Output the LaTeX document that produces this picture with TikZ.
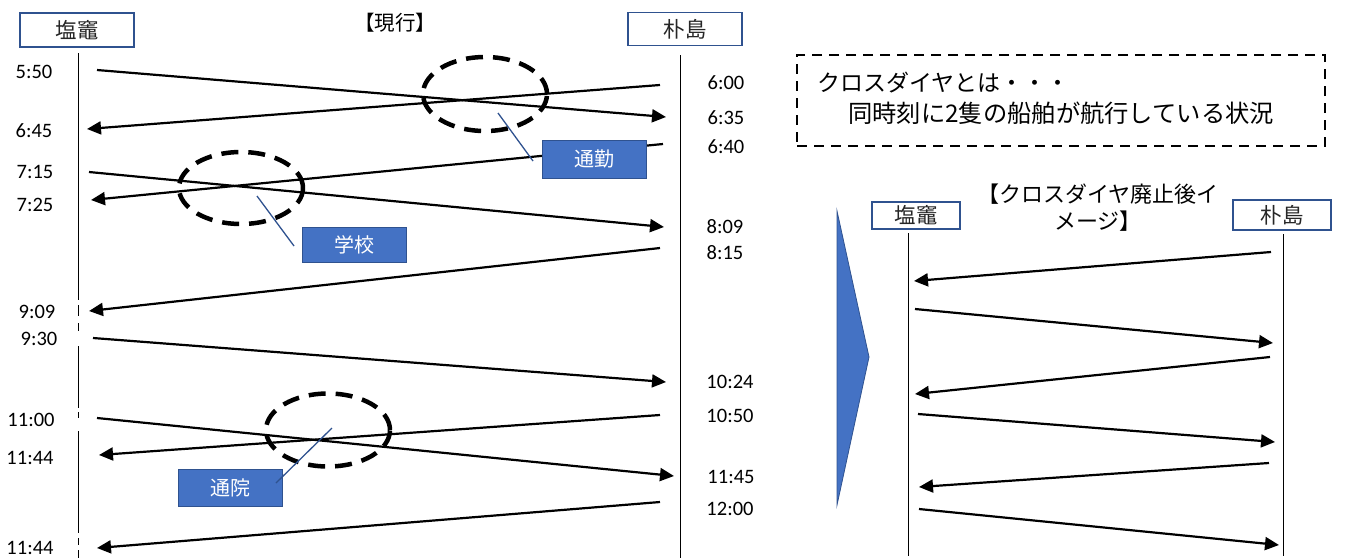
\documentclass[tikz,border=0pt]{standalone}
\usepackage{fontspec}
\setmainfont{Carlito}
\newfontfamily\jp{Noto Sans CJK JP}
\usetikzlibrary{arrows.meta,shapes.geometric}
\definecolor{cblue}{HTML}{4472C4}
\definecolor{cdark}{HTML}{2F528F}
\definecolor{ctext}{HTML}{262626}
\tikzset{
  stationbox/.style={draw=cdark,line width=1.6pt,fill=white,inner sep=0pt,font=\jp\fontsize{21.5}{24}\selectfont,text=ctext},
  timelbl/.style={font=\fontsize{20.5}{24}\selectfont,inner sep=0pt},
  trip/.style={line width=2.2pt,-{Triangle[length=14pt,width=13pt]}},
  crossring/.style={draw,ellipse,line width=4.5pt,dash pattern=on 17pt off 10pt,inner sep=0pt},
  callbox/.style={draw=cdark,line width=1pt,fill=cblue,text=white,inner sep=0pt,font=\jp\fontsize{20}{22}\selectfont},
  callline/.style={draw=cdark,line width=1.3pt},
  axis/.style={line width=1pt},
  jptext/.style={font=\jp\fontsize{20.5}{26}\selectfont,inner sep=0pt,text=black}
}
\begin{document}
\begin{tikzpicture}[x=1pt,y=-1pt]
\useasboundingbox (0,0) rectangle (1346,558);
% ===== left panel =====
\node[stationbox,minimum width=114pt,minimum height=34pt] (sL) at (77,30) {塩竈};
\node[stationbox,minimum width=114pt,minimum height=33pt] (hL) at (685,29) {朴島};
\node[jptext] (titleL) at (395,23) {【現行】};
% vertical lines
\coordinate (sTop) at (78,53);
\coordinate (sBot) at (78,558);
\draw[axis] (78,53) -- (78,300);
\draw[axis] (78,305) -- (78,316);
\draw[axis] (78,323) -- (78,331);
\draw[axis] (78,346) -- (78,408);
\draw[axis] (78,412) -- (78,418);
\draw[axis] (78,431) -- (78,533);
\draw[axis] (78,538) -- (78,545);
\draw[axis] (78,550) -- (78,558);
\coordinate (hTop) at (680,55);
\coordinate (hBot) at (680,558);
\draw[axis] (hTop) -- (hBot);
% time labels left
\node[timelbl] (t1) at (34,72) {5:50};
\node[timelbl] (t2) at (34,131) {6:45};
\node[timelbl] (t3) at (35,172) {7:15};
\node[timelbl] (t4) at (35,205) {7:25};
\node[timelbl] (t5) at (37,312) {9:09};
\node[timelbl] (t6) at (39,339) {9:30};
\node[timelbl] (t7) at (31,420) {11:00};
\node[timelbl] (t8) at (30,458) {11:44};
\node[timelbl] (t9) at (30,548) {11:44};
% time labels right
\node[timelbl] (r1) at (726,83) {6:00};
\node[timelbl] (r2) at (726,118) {6:35};
\node[timelbl] (r3) at (726,147) {6:40};
\node[timelbl] (r4) at (725,227) {8:09};
\node[timelbl] (r5) at (725,253) {8:15};
\node[timelbl] (r6) at (730,382) {10:24};
\node[timelbl] (r7) at (730,416) {10:50};
\node[timelbl] (r8) at (731,477) {11:45};
\node[timelbl] (r9) at (730,509) {12:00};
% trip endpoints
\coordinate (a1s) at (97,70);   \coordinate (a1e) at (666,117);
\coordinate (a2s) at (660,85);  \coordinate (a2e) at (87,129);
\coordinate (a3s) at (663,144); \coordinate (a3e) at (91,200);
\coordinate (a4s) at (89,172);  \coordinate (a4e) at (664,227);
\coordinate (a5s) at (660,248); \coordinate (a5e) at (89,311);
\coordinate (a6s) at (93,338);  \coordinate (a6e) at (666,382);
\coordinate (a7s) at (97,418);  \coordinate (a7e) at (674,476);
\coordinate (a8s) at (660,415); \coordinate (a8e) at (99,455);
\coordinate (a9s) at (660,502); \coordinate (a9e) at (97,548);
\foreach \i in {1,...,9} {\draw[trip] (a\i s) -- (a\i e);}
% crossing rings
\node[crossring,minimum width=124pt,minimum height=74pt] (e1) at (485,94) {};
\node[crossring,minimum width=124pt,minimum height=72pt] (e2) at (241,188) {};
\node[crossring,minimum width=124pt,minimum height=73pt] (e3) at (328,430) {};
% callouts
\node[callbox,minimum width=104pt,minimum height=38pt] (c1) at (594,159) {通勤};
\node[callbox,minimum width=104pt,minimum height=35pt] (c2) at (354,245) {学校};
\node[callbox,minimum width=104pt,minimum height=37pt] (c3) at (230,488) {通院};
\coordinate (p1a) at (498,113); \coordinate (p1b) at (533,161);
\coordinate (p2a) at (257,196); \coordinate (p2b) at (294,246);
\coordinate (p3a) at (332,428); \coordinate (p3b) at (276,483);
\draw[callline] (p1a) -- (p1b);
\draw[callline] (p2a) -- (p2b);
\draw[callline] (p3a) -- (p3b);
% ===== note box =====
\node[draw,line width=2pt,dash pattern=on 10pt off 7pt,minimum width=528pt,minimum height=91pt,inner sep=0pt] (note) at (1061,100.5) {};
\node[jptext,font=\jp\fontsize{23}{26}\selectfont,anchor=west] (n1) at (817,83) {クロスダイヤとは・・・};
\node[jptext,font=\jp\fontsize{24.3}{26}\selectfont,anchor=west] (n2) at (848,113) {同時刻に2隻の船舶が航行している状況};
% ===== right panel =====
\node[jptext,align=center,font=\jp\fontsize{22}{27}\selectfont] (titleR) at (1098,208) {【クロスダイヤ廃止後イ\\メージ】};
\node[stationbox,minimum width=88pt,minimum height=27pt] (sR) at (916,215.5) {塩竈};
\node[stationbox,minimum width=98pt,minimum height=30pt] (hR) at (1282,215) {朴島};
\coordinate (sRt) at (908,233); \coordinate (sRb) at (908,556);
\coordinate (hRt) at (1283,234); \coordinate (hRb) at (1283,556);
\draw[axis] (sRt) -- (sRb);
\draw[axis] (hRt) -- (hRb);
\fill[cblue,draw=cdark,line width=0.8pt] (837,211) -- (869,357) -- (837,505) -- cycle;
\coordinate (b1s) at (1271,252); \coordinate (b1e) at (914,281);
\coordinate (b2s) at (915,309);  \coordinate (b2e) at (1273,343);
\coordinate (b3s) at (1270,357); \coordinate (b3e) at (915,394);
\coordinate (b4s) at (918,414);  \coordinate (b4e) at (1275,442);
\coordinate (b5s) at (1269,463); \coordinate (b5e) at (919,487);
\coordinate (b6s) at (919,509);  \coordinate (b6e) at (1279,545);
\foreach \i in {1,...,6} {\draw[trip] (b\i s) -- (b\i e);}
\end{tikzpicture}
\end{document}
